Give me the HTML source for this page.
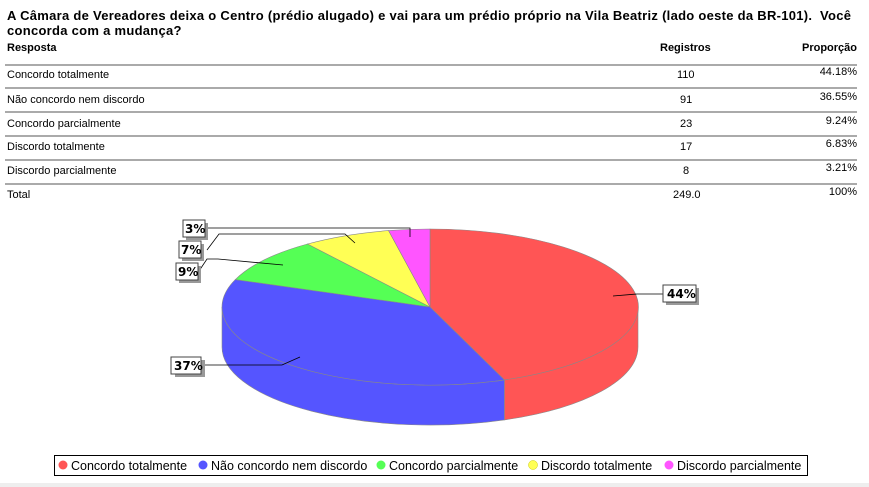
<!DOCTYPE html>
<html><head><meta charset="utf-8"><style>
body{margin:0;width:869px;height:487px;background:#fff;font-family:"Liberation Sans",sans-serif;overflow:hidden;position:relative}
.t{position:absolute;left:7px;top:8px;font-size:13px;letter-spacing:0.28px;font-weight:bold;line-height:15px;color:#000;width:858px}
.r{position:absolute;left:0;width:857px;font-size:11px;color:#000}
.r span{position:absolute}
.l{position:absolute;left:5px;width:852px;height:0;border-top:2px solid #aaa}
</style></head><body>
<div class="t">A Câmara de Vereadores deixa o Centro (prédio alugado) e vai para um prédio próprio na Vila Beatriz (lado oeste da BR-101).&nbsp; Você concorda com a mudança?</div>
<div class="r" style="top:42px;font-weight:bold"><span style="left:7px">Resposta</span><span style="left:660px">Registros</span><span style="right:0">Proporção</span></div>
<div class="l" style="top:64px"></div>
<div class="r" style="top:69px"><span style="left:7px">Concordo totalmente</span><span style="left:677px">110</span><span style="right:0;top:-3px">44.18%</span></div>
<div class="l" style="top:87px"></div>
<div class="r" style="top:94px"><span style="left:7px">Não concordo nem discordo</span><span style="left:680px">91</span><span style="right:0;top:-3px">36.55%</span></div>
<div class="l" style="top:111px"></div>
<div class="r" style="top:118px"><span style="left:7px">Concordo parcialmente</span><span style="left:680px">23</span><span style="right:0;top:-3px">9.24%</span></div>
<div class="l" style="top:135px"></div>
<div class="r" style="top:141px"><span style="left:7px">Discordo totalmente</span><span style="left:680px">17</span><span style="right:0;top:-3px">6.83%</span></div>
<div class="l" style="top:159px"></div>
<div class="r" style="top:165px"><span style="left:7px">Discordo parcialmente</span><span style="left:683px">8</span><span style="right:0;top:-3px">3.21%</span></div>
<div class="l" style="top:183px"></div>
<div class="r" style="top:189px"><span style="left:7px">Total</span><span style="left:673px">249.0</span><span style="right:0;top:-3px">100%</span></div>

<svg width="869" height="487" style="position:absolute;left:0;top:0" font-family="DejaVu Sans, sans-serif">
<g stroke="#888" stroke-width="0.6">
<path d="M638,307 A208,78 0 0,1 504.4,379.9 L504.4,419.9 A208,78 0 0,0 638,347 Z" fill="#ff5555"/>
<path d="M504.4,379.9 A208,78 0 0,1 222,307 L222,347 A208,78 0 0,0 504.4,419.9 Z" fill="#5555ff"/>
<path d="M430,307 L430,229 A208,78 0 0,1 504.4,379.9 Z" fill="#ff5555"/>
<path d="M430,307 L504.4,379.9 A208,78 0 0,1 235.3,279.6 Z" fill="#5555ff"/>
<path d="M430,307 L235.3,279.6 A208,78 0 0,1 307.5,244 Z" fill="#55ff55"/>
<path d="M430,307 L307.5,244 A208,78 0 0,1 388.6,230.6 Z" fill="#ffff55"/>
<path d="M430,307 L388.6,230.6 A208,78 0 0,1 430,229 Z" fill="#ff55ff"/>
</g>
<g fill="none" stroke="#000" stroke-width="0.8">
<path d="M613,296 L637,294 L663,294"/>
<path d="M300,357 L282,365 L200,365"/>
<path d="M283,265 L218,259 L207,259 L199,271"/>
<path d="M355,243 L345,234 L219,234 L207,250"/>
<path d="M410,237 L410,228 L207,228"/>
</g>
<g font-size="12" font-weight="bold">
<rect x="666" y="288" width="33" height="17" fill="#999"/><rect x="663" y="285" width="33" height="17" fill="#fff" stroke="#444"/><text x="667" y="298">44%</text>
<rect x="175" y="360" width="30" height="17" fill="#999"/><rect x="171" y="357" width="30" height="17" fill="#fff" stroke="#444"/><text x="174" y="370">37%</text>
<rect x="179" y="266" width="22" height="17" fill="#999"/><rect x="176" y="263" width="22" height="17" fill="#fff" stroke="#444"/><text x="178" y="276">9%</text>
<rect x="182" y="244" width="22" height="17" fill="#999"/><rect x="179" y="241" width="22" height="17" fill="#fff" stroke="#444"/><text x="181" y="254">7%</text>
<rect x="186" y="223" width="22" height="17" fill="#999"/><rect x="183" y="220" width="22" height="17" fill="#fff" stroke="#444"/><text x="185" y="233">3%</text>
</g>
<rect x="54.5" y="455.5" width="753" height="20" fill="#fff" stroke="#000"/>
<g font-size="12.5" font-family="Liberation Sans, sans-serif">
<circle cx="63" cy="465" r="4.5" fill="#ff5555"/><text x="71" y="470">Concordo totalmente</text>
<circle cx="203" cy="465" r="4.5" fill="#5555ff"/><text x="211" y="470">Não concordo nem discordo</text>
<circle cx="381" cy="465" r="4.5" fill="#55ff55"/><text x="389" y="470">Concordo parcialmente</text>
<circle cx="533" cy="465" r="4.5" fill="#ffff55" stroke="#cc0" stroke-width="0.5"/><text x="541" y="470">Discordo totalmente</text>
<circle cx="669" cy="465" r="4.5" fill="#ff55ff"/><text x="677" y="470">Discordo parcialmente</text>
</g>
<rect x="0" y="483" width="869" height="4" fill="#eee"/>
</svg>
</body></html>
